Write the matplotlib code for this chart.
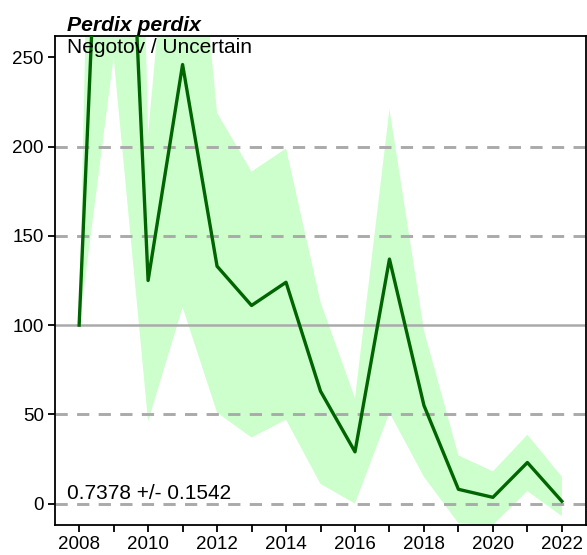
import matplotlib
matplotlib.use("Agg")
import matplotlib.pyplot as plt
import numpy as np

years = [2008, 2009, 2010, 2011, 2012, 2013, 2014, 2015, 2016, 2017, 2018, 2019, 2020, 2021, 2022]
index_vals = [100, 550, 125, 246, 133, 111, 124, 63, 29, 137, 55, 8, 3.5, 23, 1.3]
upper_vals = [100, 1000, 207, 420, 219, 186, 199, 113, 59, 221, 97, 27, 18, 38.6, 15]
lower_vals = [100, 250, 46, 110, 51, 37, 47, 11, 0, 51, 15, -11, -12, 7, -7]
ytick_vals = [0, 50, 100, 150, 200, 250]
dashed_levels = [0, 50, 150, 200]
title_text = "Perdix perdix"
subtitle_text = "Negotov / Uncertain"
trend_text = "0.7378 +/- 0.1542"

plt.rcParams['font.family'] = ['Liberation Sans', 'DejaVu Sans']

fig = plt.figure(figsize=(5.87, 5.55), dpi=100)
ax = fig.add_axes([55/587, 1-525/555, (586-55)/587, (525-36)/555])

ax.fill_between(years, lower_vals, upper_vals, color='#ccffcc', linewidth=0, zorder=1)
for lv in dashed_levels:
    ax.axhline(lv, color='#aaaaaa', linewidth=2.1, linestyle=(0, (4.2, 3.2)), zorder=2)
ax.axhline(100, color='#aaaaaa', linewidth=1.8, zorder=2)
ax.plot(years, index_vals, color='#006400', linewidth=2.4, zorder=3)

ax.set_xlim(2007.3, 2022.7)
ax.set_ylim(-12, 262)
ax.set_xticks(years)
ax.set_xticklabels([str(y) if y % 2 == 0 else '' for y in years])
ax.set_yticks(ytick_vals)
ax.tick_params(axis='both', direction='out', length=5, width=1.3, labelsize=13.5, pad=3)
for s in ax.spines.values():
    s.set_linewidth(1.3)

ax.text(0.022, 1.003, title_text, transform=ax.transAxes, fontsize=15.2,
        fontweight='bold', fontstyle='italic', ha='left', va='bottom')
ax.text(0.022, 0.996, subtitle_text, transform=ax.transAxes, fontsize=15,
        ha='left', va='top')
ax.text(0.022, 0.064, trend_text, transform=ax.transAxes, fontsize=15,
        ha='left', va='center')

fig.savefig("out.png", dpi=100)
